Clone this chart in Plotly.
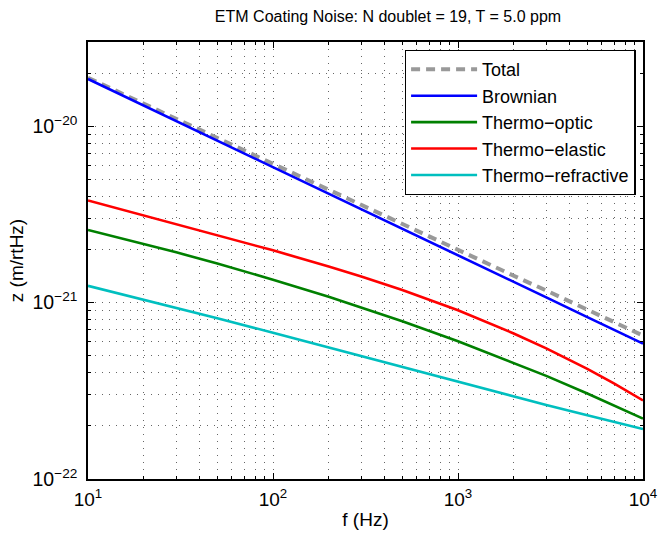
import plotly.graph_objects as go

freq = [10, 20, 30, 50, 100, 200, 300, 500, 1000, 2000, 3000, 5000, 7000, 10000]
total = [1.88e-20, 1.34e-20, 1.10e-20, 8.55e-21, 6.08e-21, 4.33e-21, 3.55e-21, 2.77e-21,
         1.98e-21, 1.42e-21, 1.17e-21, 9.1e-22, 7.7e-22, 6.5e-22]
brownian = [1.85e-20, 1.31e-20, 1.07e-20, 8.27e-21, 5.85e-21, 4.14e-21, 3.38e-21, 2.62e-21,
            1.85e-21, 1.31e-21, 1.07e-21, 8.27e-22, 6.99e-22, 5.85e-22]
thermo_optic = [2.58e-21, 2.154e-21, 1.927e-21, 1.664e-21, 1.349e-21, 1.079e-21, 9.39e-22, 7.83e-22,
                6.03e-22, 4.55e-22, 3.84e-22, 3.05e-22, 2.61e-22, 2.20e-22]
thermo_elastic = [3.79e-21, 3.11e-21, 2.78e-21, 2.41e-21, 1.977e-21, 1.603e-21, 1.406e-21, 1.178e-21,
                  9.04e-22, 6.68e-22, 5.50e-22, 4.21e-22, 3.47e-22, 2.79e-22]
thermo_refractive = [1.245e-21, 1.040e-21, 9.35e-22, 8.15e-22, 6.75e-22, 5.57e-22, 4.97e-22, 4.31e-22,
                     3.56e-22, 2.94e-22, 2.63e-22, 2.30e-22, 2.10e-22, 1.92e-22]

x_tickvals = [10, 100, 1000, 10000]
x_ticktext = ["10<sup>1</sup>", "10<sup>2</sup>", "10<sup>3</sup>", "10<sup>4</sup>"]
y_tickvals = [1e-22, 1e-21, 1e-20]
y_ticktext = ["10<sup>\u221222</sup>", "10<sup>\u221221</sup>", "10<sup>\u221220</sup>"]
x_minor = [m * 10 ** e for e in (1, 2, 3) for m in range(2, 10)]
y_minor = [m * 10.0 ** e for e in (-22, -21, -20) for m in range(2, 10)]

series = [
    ("Total", total, dict(color="rgb(153,153,153)", width=4, dash="9px,6px")),
    ("Brownian", brownian, dict(color="rgb(0,0,255)", width=2.6)),
    ("Thermo\u2212optic", thermo_optic, dict(color="rgb(0,128,0)", width=2.6)),
    ("Thermo\u2212elastic", thermo_elastic, dict(color="rgb(255,0,0)", width=2.6)),
    ("Thermo\u2212refractive", thermo_refractive, dict(color="rgb(0,191,191)", width=2.6)),
]

FONT = "Liberation Sans, Arial, Helvetica"

fig = go.Figure()
for name, vals, line in series:
    fig.add_trace(go.Scatter(x=freq, y=vals, mode="lines", name=name, line=line))

grid = dict(showgrid=True, gridcolor="rgba(0,0,0,0.6)", gridwidth=1, griddash="1px,6px")


def axis_common(minor_vals, size):
    return dict(
        type="log",
        ticks="inside", ticklen=6, tickcolor="black", mirror="ticks",
        showline=True, linecolor="black", linewidth=1.5,
        tickfont=dict(family=FONT, size=size, color="black"),
        minor=dict(tickmode="array", tickvals=minor_vals, ticks="inside", ticklen=3,
                   tickcolor="black", **grid),
        zeroline=False, automargin=False, **grid,
    )


fig.update_layout(
    width=658, height=539,
    margin=dict(l=88, r=15, t=42, b=60),
    paper_bgcolor="white", plot_bgcolor="white",
    title=dict(text="ETM Coating Noise: N doublet = 19, T = 5.0 ppm",
               x=388 / 658, xanchor="center", y=1 - 16 / 539, yanchor="middle",
               font=dict(family=FONT, size=16, color="black")),
    xaxis=dict(range=[1, 4], tickvals=x_tickvals, ticktext=x_ticktext, ticklabelstandoff=2,
               title=dict(text="f (Hz)", standoff=4,
                          font=dict(family=FONT, size=19, color="black")), **axis_common(x_minor, 19)),
    yaxis=dict(range=[-22, -19.523], tickvals=y_tickvals, ticktext=y_ticktext, ticklabelstandoff=5,
               title=dict(text="z (m/rtHz)", standoff=4,
                          font=dict(family=FONT, size=19, color="black")), **axis_common(y_minor, 19.5)),
    legend=dict(x=0.987, y=0.982, xanchor="right", yanchor="top",
                bgcolor="white", bordercolor="black", borderwidth=1.3,
                font=dict(family=FONT, size=18, color="black"),
                tracegroupgap=0, itemwidth=66),
    showlegend=True,
)

fig.write_html("out.html", config={"displayModeBar": False},
               post_script="document.body.style.margin='0';document.body.style.padding='0';")
